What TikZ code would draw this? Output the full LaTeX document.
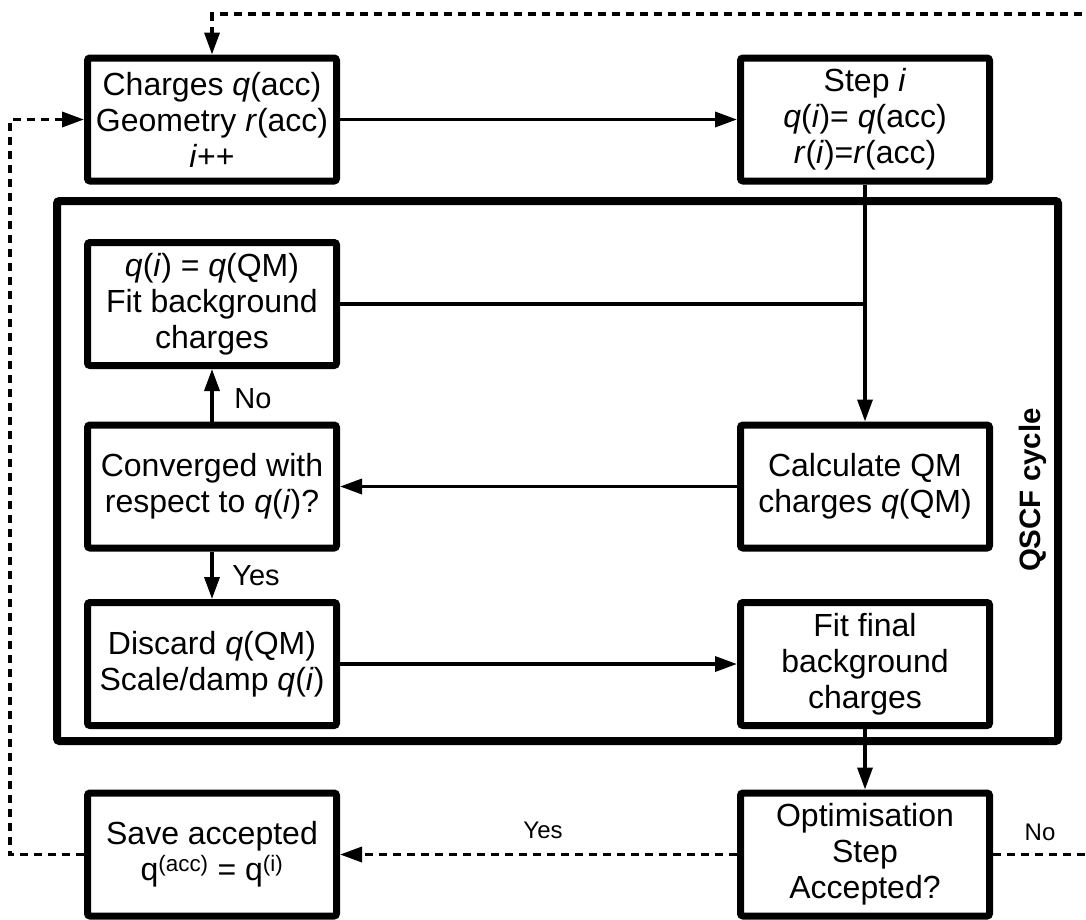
\documentclass[tikz,border=0pt]{standalone}
\usepackage{fontspec}
\setmainfont{Liberation Sans}
\usetikzlibrary{arrows.meta}
\begin{document}
\begin{tikzpicture}[x=1pt,y=-1pt,
  box/.style={draw, line width=7pt, rounded corners=2.5pt, minimum width=249pt, minimum height=123pt, align=center, inner sep=0pt, font=\fontsize{32}{36}\selectfont, fill=white},
  conn/.style={line width=3.5pt, -{Triangle[length=22pt,width=15pt]}},
  plain/.style={line width=3.5pt},
  dconn/.style={line width=3.5pt, dash pattern=on 8pt off 6pt, -{Triangle[length=22pt,width=15pt]}},
  lbl/.style={font=\fontsize{29}{34}\selectfont, inner sep=0pt, anchor=base},
  slbl/.style={font=\fontsize{24}{28}\selectfont, inner sep=0pt, anchor=base}]
\useasboundingbox[fill=white] (0,0) rectangle (1086,919);

% QSCF frame
\node[draw, line width=8pt, rounded corners=2.5pt, minimum width=1001pt, minimum height=540pt, inner sep=0pt] (qscf) at (557.5,471) {};
\node[font=\bfseries\fontsize{29.5}{33}\selectfont, rotate=90, anchor=base, inner sep=0pt] (qlabel) at (1040,490) {QSCF cycle};

% boxes
\node[box] (acc) at (212,119.5) {Charges \textit{q}(acc)\\Geometry \textit{r}(acc)\\\textit{i}++};
\node[box] (step) at (865,119.5) {Step \textit{i}\\\textit{q}(\textit{i})= \textit{q}(acc)\\\textit{r}(\textit{i})=\textit{r}(acc)};
\node[box] (fitbg) at (212,304) {\textit{q}(\textit{i}) = \textit{q}(QM)\\Fit background\\charges};
\node[box] (conv) at (212,486.5) {Converged with\\respect to \textit{q}(\textit{i})?};
\node[box] (calc) at (865,486.5) {Calculate QM\\charges \textit{q}(QM)};
\node[box] (disc) at (212,664) {Discard \textit{q}(QM)\\Scale/damp \textit{q}(\textit{i})};
\node[box] (fitfin) at (865,664) {Fit final\\background\\charges};
\node[box] (save) at (212,854.5) {Save accepted\\q\textsuperscript{(acc)} = q\textsuperscript{(i)}};
\node[box] (opt) at (865,854.5) {Optimisation\\Step\\Accepted?};

% coordinates for dashed loops
\coordinate (tr) at (1100,14);
\coordinate (tl) at (212,14);
\coordinate (br) at (1100,854.5);
\coordinate (bl) at (10,854.5);
\coordinate (ml) at (10,119.5);

% solid connectors
\draw[conn] (acc.east) -- (step.west);
\draw[conn] (step.south) -- (calc.north);
\draw[plain] (fitbg.east) -- (fitbg.east -| step.south);
\draw[conn] (conv.north) -- (fitbg.south);
\draw[conn] (calc.west) -- (conv.east);
\draw[conn] (conv.south) -- (disc.north);
\draw[conn] (disc.east) -- (fitfin.west);
\draw[conn] (fitfin.south) -- (opt.north);

% dashed connectors
\draw[dconn] (opt.west) -- (save.east);
\draw[dconn] (opt.east) -- (br) -- (tr) -- (tl) -- (acc.north);
\draw[dconn] (save.west) -- (bl) -- (ml) -- (acc.west);

% labels
\node[lbl] (no1) at (253,408) {No};
\node[lbl] (yes1) at (256,585) {Yes};
\node[slbl] (yes2) at (543,838) {Yes};
\node[slbl] (no2) at (1040,840) {No};
\end{tikzpicture}
\end{document}
